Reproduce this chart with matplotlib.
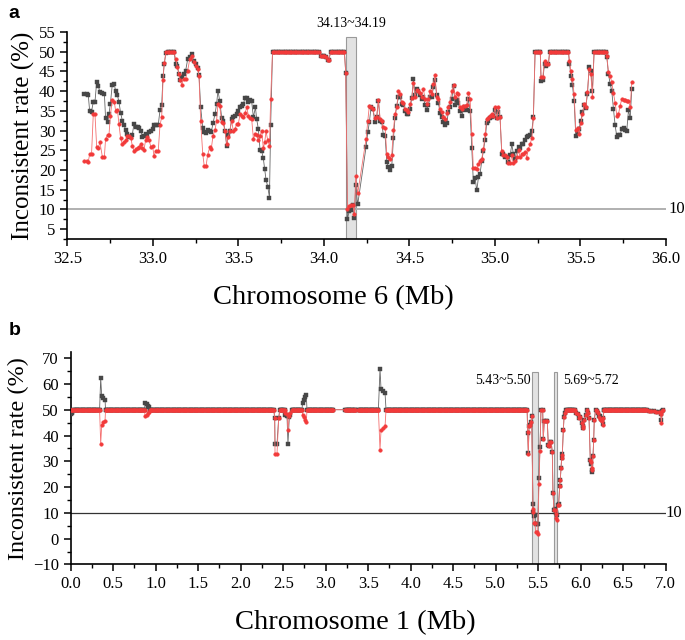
import numpy as np
import matplotlib
matplotlib.use('Agg')
import matplotlib.pyplot as plt
from matplotlib.ticker import MultipleLocator

plt.rcParams['font.family'] = ['Liberation Serif', 'DejaVu Serif']

# value of the long plateaus in both panels
FLAT = 50.0
STEP = 0.01

# ---------- panel a: chromosome 6 ----------
a_pos = [
    32.600, 32.613, 32.623, 32.631, 32.642, 32.652, 32.662, 32.672, 32.681, 32.691,
    32.705, 32.717, 32.724, 32.736, 32.744, 32.752, 32.763, 32.775, 32.783, 32.793,
    32.802, 32.812, 32.822, 32.833, 32.841, 32.851, 32.861, 32.872, 32.880, 32.890,
    32.900, 32.911, 32.919, 32.929, 32.939, 32.948, 32.958, 32.968, 32.978, 32.989,
    32.999, 33.007, 33.017, 33.032, 33.042, 33.052, 33.060, 33.067, 33.077, 33.087,
    33.097, 33.106, 33.116, 33.124, 33.134, 33.143, 33.153, 33.161, 33.169, 33.180,
    33.192, 33.204, 33.216, 33.227, 33.239, 33.251, 33.262, 33.270, 33.280, 33.292,
    33.301, 33.311, 33.321, 33.333, 33.342, 33.352, 33.364, 33.373, 33.381, 33.391,
    33.403, 33.412, 33.422, 33.432, 33.442, 33.451, 33.461, 33.471, 33.481,
    33.490, 33.500, 33.510, 33.520, 33.530, 33.539, 33.549, 33.559, 33.568, 33.578,
    33.588, 33.600, 33.607, 33.617, 33.627, 33.637, 33.646, 33.654, 33.662, 33.672,
    33.682, 33.689,
    33.984, 33.993, 34.003, 34.013, 34.023, 34.029,
    34.128, 34.138, 34.149, 34.159, 34.169, 34.179, 34.186, 34.198,
    34.247, 34.257, 34.266, 34.276, 34.286,
    34.299, 34.309, 34.319, 34.329, 34.338, 34.348, 34.358, 34.368, 34.377, 34.387,
    34.397, 34.407, 34.416, 34.426, 34.436, 34.446, 34.455, 34.465, 34.475, 34.485,
    34.494, 34.504, 34.514, 34.524, 34.533, 34.543, 34.553, 34.563, 34.572, 34.582,
    34.592, 34.602, 34.611, 34.621, 34.631, 34.641, 34.650, 34.660, 34.670, 34.680,
    34.689, 34.699, 34.709, 34.719, 34.728, 34.738, 34.748, 34.758, 34.767, 34.777,
    34.787, 34.796, 34.806, 34.816, 34.826, 34.835, 34.845, 34.855, 34.865, 34.874,
    34.884, 34.894, 34.904, 34.913, 34.923, 34.933, 34.943, 34.952, 34.962, 34.972,
    34.982, 34.991, 35.001, 35.011, 35.021, 35.030, 35.040, 35.050, 35.060, 35.069,
    35.079, 35.089, 35.099, 35.108, 35.118, 35.128, 35.138, 35.147, 35.157, 35.167,
    35.177, 35.186, 35.196, 35.206, 35.216, 35.225,
    35.270, 35.280, 35.290, 35.299, 35.313,
    35.436, 35.444, 35.453, 35.463, 35.473, 35.483, 35.492, 35.502, 35.512, 35.522,
    35.531, 35.541, 35.551, 35.561, 35.570,
    35.654, 35.664, 35.674, 35.683, 35.693, 35.703, 35.713, 35.722, 35.732, 35.742,
    35.752, 35.761, 35.771, 35.781, 35.791, 35.800,
]
a_black = [
    39.3, 39.2, 38.9, 34.9, 34.8, 37.3, 37.3, 42.4, 41.4, 39.7,
    39.5, 39.3, 33.1, 32.1, 34.2, 36.8, 41.6, 41.7, 40.0, 39.0,
    37.3, 34.5, 32.5, 31.3, 30.2, 29.2, 28.4, 28.3, 28.9, 31.7,
    31.0, 30.8, 30.7, 30.0, 28.3, 28.7, 29.2, 28.7, 29.6, 29.8,
    30.3, 31.5, 31.5, 31.5, 35.1, 36.6, 43.9, 46.9, 49.8, 50,
    50, 50, 50, 50, 47.0, 46.5, 44.3, 42.8, 43.5, 44.3,
    45.2, 48.1, 48.7, 49.4, 47.7, 46.9, 45.9, 44.1, 35.9, 30.6,
    29.7, 29.4, 30.2, 30.0, 29.6, 31.9, 34.2, 36.8, 40.1, 37.6,
    33.2, 32.5, 30.0, 26.0, 28.9, 30.0, 33.0, 33.5, 33.8,
    34.1, 34.9, 35.9, 36.3, 36.8, 38.3, 38.3, 37.2, 37.8, 37.4,
    33.4, 35.9, 33.0, 30.4, 25.1, 24.7, 23.0, 20.3, 17.5, 15.8,
    13.0, 31.4,
    49.0, 49.0, 48.8, 48.6, 47.9, 47.9,
    44.6, 7.6, 9.7, 9.9, 11.0, 7.8, 16.1, 11.3,
    25.9, 29.6, 32.1, 35.9, 35.5,
    32.1, 33.4, 37.6, 32.5, 32.1, 28.9, 28.7, 22.0, 20.7, 20.0,
    20.9, 28.1, 33.2, 36.3, 38.4, 38.6, 36.8, 36.6, 34.9, 34.2,
    34.1, 35.5, 38.3, 43.1, 39.1, 40.5, 40.0, 39.1, 38.0, 38.4,
    36.5, 35.2, 36.5, 38.4, 38.6, 41.0, 42.7, 38.9, 36.9, 34.4,
    33.5, 32.1, 31.3, 31.9, 34.8, 36.1, 38.0, 41.4, 36.6, 37.8,
    36.9, 34.9, 33.8, 35.2, 35.9, 35.1, 38.0, 34.9, 25.5, 16.9,
    18.0, 14.8, 18.2, 19.0, 22.2, 24.9, 27.7, 31.9, 32.5, 33.2,
    33.4, 33.8, 35.1, 33.2, 34.6, 33.4, 24.1, 24.1, 23.4, 23.2,
    22.0, 23.7, 26.5, 24.1, 22.8, 24.8, 25.9, 25.6, 26.5, 26.5,
    27.5, 28.3, 28.7, 29.0, 30.0, 33.4,
    42.5, 42.7, 47.0, 46.5, 46.9,
    47.0, 43.9, 41.6, 37.6, 28.5, 29.6, 30.4, 32.5, 34.6, 36.6,
    35.8, 39.3, 46.2, 45.0, 40.0,
    48.7, 44.3, 41.8, 40.1, 35.5, 31.3, 28.3, 29.0, 29.0, 30.4,
    30.7, 30.2, 30.0, 35.2, 33.1, 40.5,
]
a_red = [
    22.2, 22.2, 22.1, 24.1, 24.1, 34.1, 34.1, 25.8, 25.6, 27.0,
    23.4, 23.4, 27.9, 28.9, 29.0, 33.8, 37.8, 37.3, 34.9, 35.3,
    31.7, 28.0, 26.6, 27.0, 27.5, 28.6, 28.6, 28.1, 26.2, 24.8,
    25.2, 25.6, 25.8, 26.6, 25.6, 25.1, 27.5, 28.3, 27.6, 25.8,
    26.1, 23.5, 24.9, 24.9, 31.3, 33.4, 42.9, 47.1, 50, 50,
    50, 50, 50, 50, 48.1, 46.2, 44.3, 42.7, 41.6, 43.2,
    43.2, 45.2, 48.1, 49.0, 47.3, 46.5, 45.6, 43.9, 32.3, 24.1,
    20.9, 20.9, 23.9, 25.8, 25.4, 28.7, 30.2, 32.5, 36.8, 36.3,
    32.1, 31.9, 29.8, 26.6, 28.3, 30.0, 32.5, 29.8, 30.4,
    31.7, 31.7, 34.1, 33.8, 33.4, 34.4, 35.9, 33.8, 33.2, 33.0,
    27.9, 29.2, 28.9, 27.5, 28.7, 30.0, 25.5, 27.0, 29.8, 27.5,
    26.2, 38.0,
    49.0, 49.0, 48.8, 48.6, 47.9, 47.9,
    44.6, 10.2, 10.8, 11.0, 11.0, 8.9, 18.4, 14.1,
    27.9, 32.5, 36.3, 35.9, 35.5,
    33.2, 33.5, 37.8, 33.0, 32.5, 30.8, 30.7, 24.1, 23.2, 22.8,
    23.9, 30.2, 34.2, 35.9, 40.1, 39.3, 37.2, 36.9, 35.5, 35.1,
    34.8, 36.8, 38.3, 42.0, 38.4, 40.3, 40.1, 39.5, 38.6, 40.5,
    38.0, 36.8, 38.0, 40.0, 39.3, 41.8, 44.1, 38.4, 38.0, 35.5,
    34.6, 33.5, 33.0, 34.4, 35.9, 37.2, 40.1, 41.6, 38.4, 39.5,
    39.3, 35.9, 35.5, 36.3, 36.3, 36.5, 39.5, 38.0, 29.2, 20.5,
    20.5, 20.3, 21.6, 22.2, 22.8, 25.4, 29.2, 33.0, 33.2, 33.8,
    34.1, 33.8, 35.9, 33.2, 35.9, 33.5, 24.9, 23.7, 23.7, 23.2,
    21.7, 21.7, 23.7, 21.7, 22.4, 23.2, 25.1, 23.2, 24.1, 24.1,
    24.5, 23.1, 25.4, 26.6, 28.1, 33.2,
    43.5, 43.7, 47.6, 47.0, 47.0,
    47.6, 45.2, 43.1, 39.3, 30.2, 30.7, 29.2, 31.8, 34.1, 36.8,
    35.9, 39.7, 45.6, 44.3, 38.6,
    49.0, 44.8, 43.9, 42.2, 39.5, 37.0, 33.8, 34.1, 36.3, 38.0,
    37.8, 37.7, 37.6, 37.6, 35.9, 42.2,
]
a_flat_runs = [(33.70, 33.97), (34.04, 34.12), (35.235, 35.265),
               (35.32, 35.43), (35.58, 35.65)]
a_region = (34.13, 34.19)

# ---------- panel b: chromosome 1 ----------
b_pos = [
    0.00, 0.01, 0.02,
    0.353, 0.365, 0.385, 0.404,
    0.874, 0.894, 0.913, 0.925,
    2.400, 2.404, 2.427, 2.447,
    2.525, 2.545, 2.556, 2.572, 2.584,
    2.729, 2.741, 2.760, 2.772,
    3.639, 3.651, 3.678, 3.698,
    5.376, 5.384, 5.392, 5.404, 5.415, 5.423, 5.439, 5.443, 5.451, 5.462,
    5.470, 5.482, 5.494, 5.509, 5.521, 5.533, 5.553, 5.560, 5.572, 5.588,
    5.607, 5.619, 5.631, 5.643, 5.653, 5.666, 5.674, 5.686, 5.698, 5.706,
    5.713, 5.721, 5.729, 5.741, 5.753, 5.760, 5.768, 5.776, 5.784, 5.796,
    5.804, 5.815,
    5.945, 5.965, 5.980, 5.996, 6.012, 6.024, 6.031, 6.043, 6.059, 6.071,
    6.082, 6.098, 6.113, 6.121, 6.129, 6.137, 6.145, 6.153, 6.160, 6.176,
    6.192, 6.207, 6.219, 6.231, 6.239, 6.247, 6.259, 6.266, 6.274,
    6.80, 6.83, 6.86, 6.89, 6.92, 6.94, 6.95, 6.96, 6.97,
]
b_black = [
    48.5, 48.8, 49.0,
    62.3, 55.2, 54.5, 53.9,
    52.6, 52.2, 51.6, 50.9,
    46.8, 36.7, 36.7, 46.8,
    47.8, 47.5, 36.7, 47.0, 48.0,
    52.6, 53.9, 54.8, 55.6,
    65.8, 58.0, 57.1, 56.5,
    41.0, 33.2, 43.5, 44.0, 45.2, 47.4, 13.3, 10.5, 8.8, 9.0,
    5.7, 5.7, 5.5, 23.5, 35.5, 50, 50, 38.7, 45.7, 45.5,
    45.7, 36.4, 36.0, 37.3, 37.5, 33.6, 17.6, 11.2, 11.5, 10.5,
    10.0, 9.0, 13.1, 13.5, 20.6, 22.8, 27.3, 31.2, 33.0, 42.2,
    47.0, 48.7,
    48.7, 48.3, 46.8, 47.2, 44.8, 43.5, 43.0, 46.1, 48.0, 50,
    48.6, 46.8, 30.6, 29.0, 26.5, 26.0, 31.9, 38.3, 46.1, 50,
    49.5, 48.6, 47.5, 47.5, 46.5, 46.0, 44.5, 46.8, 50,
    49.5, 49.4, 49.4, 49.3, 49.0, 48.5, 46.0, 49.5, 50,
]
b_red = [
    50, 50, 50,
    36.7, 44.2, 45.1, 45.7,
    47.7, 48.1, 48.7, 49.2,
    46.6, 32.8, 32.8, 46.6,
    48.7, 48.5, 42.2, 47.5, 48.7,
    48.1, 47.2, 46.1, 45.2,
    34.5, 42.0, 42.9, 43.5,
    41.3, 32.9, 43.5, 44.0, 45.2, 47.4, 11.5, 10.5, 6.0, 6.0,
    2.7, 2.4, 2.0, 21.1, 34.1, 50, 50, 38.7, 45.7, 45.5,
    45.7, 36.4, 36.0, 37.3, 37.5, 33.6, 17.6, 11.2, 11.0, 9.5,
    8.2, 7.3, 13.1, 13.1, 20.6, 22.8, 27.3, 31.2, 32.5, 42.2,
    47.0, 48.7,
    48.7, 48.3, 46.8, 47.2, 44.8, 43.5, 43.0, 46.1, 48.0, 50,
    48.6, 46.8, 30.6, 29.9, 27.3, 26.6, 31.9, 38.3, 46.1, 50,
    49.5, 48.6, 47.1, 46.5, 46.0, 45.5, 44.2, 46.8, 50,
    49.5, 49.4, 49.4, 49.3, 49.0, 48.5, 44.8, 49.5, 50,
]
b_flat_runs = [(0.03, 0.34), (0.41, 0.87), (0.93, 2.39), (2.46, 2.52),
               (2.60, 2.72), (2.78, 3.09), (3.23, 3.35), (3.38, 3.62),
               (3.71, 5.37), (5.83, 5.93), (6.28, 6.78)]
b_regions = [(5.43, 5.50), (5.69, 5.72)]

BLACK = '#474747'
RED = '#f23a3a'


def merge(pos, black, red, runs):
    xs, bs, rs = list(pos), list(black), list(red)
    for start, end in runs:
        for x in np.arange(start, end + 1e-6, STEP):
            xs.append(x)
            bs.append(FLAT)
            rs.append(FLAT)
    order = np.argsort(xs)
    return np.array(xs)[order], np.array(bs)[order], np.array(rs)[order]


def draw_series(ax, x, black, red):
    ax.plot(x, black, color='#666666', lw=0.6, marker='s', ms=2.2,
            mfc=BLACK, mec=BLACK, mew=0.3, zorder=3)
    ax.plot(x, red, color='#f47070', lw=0.6, marker='o', ms=2.6,
            mfc=RED, mec=RED, mew=0.3, zorder=4)


def style(ax):
    for s in ['top', 'right']:
        ax.spines[s].set_visible(False)
    for s in ['left', 'bottom']:
        ax.spines[s].set_linewidth(1.2)
    ax.tick_params(which='major', direction='out', length=5, width=1.1, labelsize=12)
    ax.tick_params(which='minor', direction='out', length=3, width=1.0)


fig = plt.figure(figsize=(6.85, 6.40), dpi=100)

# panel a
ax1 = fig.add_axes([0.0982, 0.6266, 0.874, 0.3234])
xa, ba, ra = merge(a_pos, a_black, a_red, a_flat_runs)
ax1.axvspan(a_region[0], a_region[1], ymin=0, ymax=(53.8 - 2.5) / 52.5,
            facecolor='#e2e2e2', edgecolor='#9a9a9a', lw=0.8, zorder=1)
ax1.axhline(10, color='#b0b0b0', lw=1.4, zorder=2)
draw_series(ax1, xa, ba, ra)
ax1.set_xlim(32.5, 36.0)
ax1.set_ylim(2.5, 55)
ax1.xaxis.set_major_locator(MultipleLocator(0.5))
ax1.xaxis.set_minor_locator(MultipleLocator(0.25))
ax1.yaxis.set_major_locator(MultipleLocator(5))
ax1.yaxis.set_minor_locator(MultipleLocator(2.5))
ax1.xaxis.set_major_formatter(matplotlib.ticker.FormatStrFormatter('%.1f'))
style(ax1)
ax1.text(sum(a_region) / 2, 55.4, '34.13~34.19', ha='center', va='bottom',
         fontsize=10, clip_on=False)
ax1.text(1.004, 10, '10', transform=ax1.get_yaxis_transform(), ha='left',
         va='center', fontsize=12)
ax1.set_xlabel('Chromosome 6 (Mb)', fontsize=20.5)
ax1.xaxis.set_label_coords(0.444, -0.225)
ax1.set_ylabel('Inconsistent rate (%)', fontsize=18, labelpad=3)

# panel b
ax2 = fig.add_axes([0.1032, 0.118, 0.8686, 0.3325])
xb, bb, rb = merge(b_pos, b_black, b_red, b_flat_runs)
for lo, hi in b_regions:
    ax2.axvspan(lo, hi, ymin=0, ymax=(64.8 + 10) / 82.5,
                facecolor='#e2e2e2', edgecolor='#9a9a9a', lw=0.8, zorder=1)
ax2.axhline(10, color='#333333', lw=0.9, zorder=2)
draw_series(ax2, xb, bb, rb)
ax2.set_xlim(0, 7.0)
ax2.set_ylim(-10, 72.5)
ax2.xaxis.set_major_locator(MultipleLocator(0.5))
ax2.xaxis.set_minor_locator(MultipleLocator(0.25))
ax2.yaxis.set_major_locator(MultipleLocator(10))
ax2.yaxis.set_minor_locator(MultipleLocator(5))
ax2.xaxis.set_major_formatter(matplotlib.ticker.FormatStrFormatter('%.1f'))
style(ax2)
ax2.text(b_regions[0][0] - 0.02, 61.3, '5.43~5.50', ha='right', va='center', fontsize=10)
ax2.text(b_regions[1][1] + 0.07, 61.3, '5.69~5.72', ha='left', va='center', fontsize=10)
ax2.text(1.0, 10, '10', transform=ax2.get_yaxis_transform(), ha='left',
         va='center', fontsize=12, clip_on=False)
ax2.set_xlabel('Chromosome 1 (Mb)', fontsize=20.5)
ax2.xaxis.set_label_coords(0.478, -0.215)
ax2.set_ylabel('Inconsistent rate (%)', fontsize=17.5, labelpad=3)

fig.text(0.012, 0.992, 'a', fontsize=14, fontweight='bold', family='Liberation Sans',
         ha='left', va='top')
fig.text(0.012, 0.497, 'b', fontsize=14, fontweight='bold', family='Liberation Sans',
         ha='left', va='top')

fig.savefig('out.png', dpi=100)
